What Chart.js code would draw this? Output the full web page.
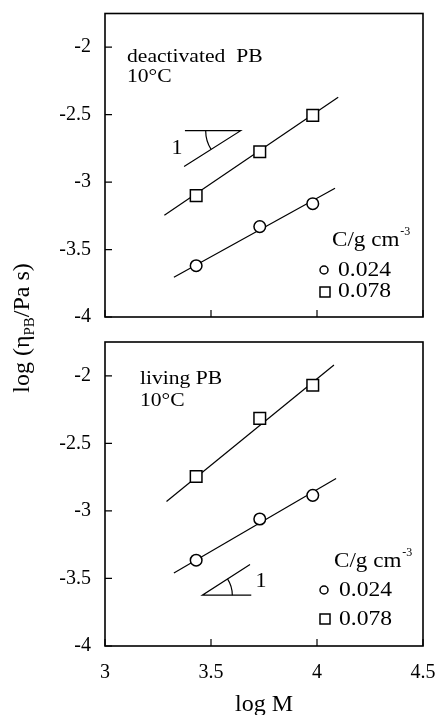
<!DOCTYPE html>
<html>
<head>
<meta charset="utf-8">
<script src="https://cdn.jsdelivr.net/npm/chart.js@4.4.1/dist/chart.umd.min.js"></script>
<style>
  html, body { margin: 0; padding: 0; background: #fff; }
  #wrap { position: relative; width: 438px; height: 715px; }
  #wrap canvas { position: absolute; left: 0; }
</style>
</head>
<body>
<div id="wrap">
  <canvas id="top" width="438" height="715" style="top:0;width:438px;height:715px"></canvas>
  <canvas id="bottom" width="438" height="385" style="top:330px;width:438px;height:385px"></canvas>
</div>
<script>
// values
const logM = [3.43, 3.73, 3.98];
const deact024 = [-3.62, -3.33, -3.16];
const deact078 = [-3.10, -2.775, -2.505];
const living024 = [-3.365, -3.06, -2.885];
const living078 = [-2.745, -2.315, -2.07];

// fitted lines, end points
const deactFitX024 = [3.325, 4.085], deactFitY024 = [-3.705, -3.045];
const deactFitX078 = [3.28, 4.10],   deactFitY078 = [-3.245, -2.37];
const livingFitX024 = [3.325, 4.09], livingFitY024 = [-3.46, -2.76];
const livingFitX078 = [3.29, 4.08],  livingFitY078 = [-2.93, -1.92];

// slope-1 guides
const deactSlopeX = [3.373, 3.64, 3.377],  deactSlopeY = [-2.884, -2.619, -2.619];
const livingSlopeX = [3.69, 3.459, 3.684], livingSlopeY = [-3.624, -3.624, -3.396];

const xTicks = [3, 3.5, 4, 4.5];
const yTicks = [-4, -3.5, -3, -2.5, -2];

const serif = '"Liberation Serif", "Times New Roman", serif';

function pts(xs, ys) {
    return xs.map((x, i) => ({ x: x, y: ys[i] }));
}

function txt(ctx, s, x, y, size, sx, align) {
    ctx.save();
    ctx.font = size + 'px ' + serif;
    ctx.translate(x, y);
    ctx.scale(sx, 1);
    ctx.textAlign = align || 'left';
    ctx.textBaseline = 'alphabetic';
    ctx.fillStyle = '#000';
    ctx.fillText(s, 0, 0);
    const w = ctx.measureText(s).width * sx;
    ctx.restore();
    return w;
}

const deco = {
    id: 'deco',
    afterDraw(chart, args, o) {
        const { ctx, chartArea: a, scales: { x, y } } = chart;
        ctx.save();
        ctx.strokeStyle = '#000';
        ctx.fillStyle = '#000';

        // frame + inward ticks
        ctx.lineWidth = 1.6;
        ctx.strokeRect(a.left, a.top, a.right - a.left, a.bottom - a.top);
        ctx.lineWidth = 1.2;
        ctx.beginPath();
        yTicks.forEach(v => {
            const p = y.getPixelForValue(v);
            ctx.moveTo(a.left, p); ctx.lineTo(a.left + 7, p);
        });
        xTicks.forEach(v => {
            const p = x.getPixelForValue(v);
            ctx.moveTo(p, a.bottom); ctx.lineTo(p, a.bottom - 7);
        });
        ctx.stroke();

        // panel title
        txt(ctx, o.title[0], o.titleX, o.titleY[0], 18, 1.2);
        txt(ctx, o.title[1], o.titleX, o.titleY[1], 18, 1.2);

        // angle arc of slope guide
        const vx = x.getPixelForValue(o.arc.vertex[0]), vy = y.getPixelForValue(o.arc.vertex[1]);
        const ex = x.getPixelForValue(o.arc.toward[0]), ey = y.getPixelForValue(o.arc.toward[1]);
        const ang = Math.atan2(ey - vy, ex - vx);
        ctx.lineWidth = 1.2;
        ctx.beginPath();
        if (o.arc.left) ctx.arc(vx, vy, o.arc.r, ang, Math.PI);
        else ctx.arc(vx, vy, o.arc.r, ang, 0);
        ctx.stroke();
        txt(ctx, '1', o.one[0], o.one[1], 20, 1.1, 'center');

        // legend
        const L = o.legend;
        const w = txt(ctx, 'C/g cm', L.x, L.y, 21, 1.1);
        txt(ctx, '-3', L.x + w + 1, L.y - 11, 12, 1);
        ctx.lineWidth = 1.5;
        ctx.fillStyle = '#fff';
        ctx.beginPath();
        ctx.arc(L.sym[0][0], L.sym[0][1], 4, 0, Math.PI * 2);
        ctx.fill(); ctx.stroke();
        ctx.beginPath();
        ctx.rect(L.sym[1][0] - 5, L.sym[1][1] - 5, 10, 10);
        ctx.fill(); ctx.stroke();
        txt(ctx, '0.024', L.tx, L.ty[0], 20, 1.18);
        txt(ctx, '0.078', L.tx, L.ty[1], 20, 1.18);

        // shared y title (drawn once, on the tall top canvas)
        if (o.yTitle) {
            ctx.save();
            ctx.translate(29, 328);
            ctx.rotate(-Math.PI / 2);
            ctx.fillStyle = '#000';
            ctx.textBaseline = 'alphabetic';
            const parts = [['log (\u03b7', 24, 0], ['PB', 15, 5], ['/Pa s)', 24, 0]];
            let tw = 0;
            parts.forEach(p => { ctx.font = p[1] + 'px ' + serif; tw += ctx.measureText(p[0]).width; });
            let cx = -tw / 2;
            parts.forEach(p => {
                ctx.font = p[1] + 'px ' + serif;
                ctx.fillText(p[0], cx, p[2]);
                cx += ctx.measureText(p[0]).width;
            });
            ctx.restore();
        }
        ctx.restore();
    }
};

function datasets(c024, c078, fx024, fy024, fx078, fy078, sx, sy) {
    const line = { showLine: true, pointRadius: 0, borderColor: '#000', borderWidth: 1.2, fill: false };
    return [
        { data: pts(logM, c024), pointStyle: 'circle', pointRadius: 5.8, pointBorderWidth: 1.5,
          pointBackgroundColor: '#fff', pointBorderColor: '#000', showLine: false },
        { data: pts(logM, c078), pointStyle: 'rect', pointRadius: 8.2, pointBorderWidth: 1.5,
          pointBackgroundColor: '#fff', pointBorderColor: '#000', showLine: false },
        Object.assign({ data: pts(fx024, fy024) }, line),
        Object.assign({ data: pts(fx078, fy078) }, line),
        Object.assign({ data: pts(sx, sy) }, line)
    ];
}

function yScale() {
    return {
        type: 'linear', min: -4, max: -1.75,
        afterBuildTicks: s => { s.ticks = yTicks.map(v => ({ value: v })); },
        afterFit: s => { s.width = 105; s.paddingTop = 0; s.paddingBottom = 0; },
        grid: { display: false, drawTicks: false },
        border: { display: false },
        ticks: { padding: 14, color: '#000', font: { family: serif, size: 20 }, callback: v => String(v) }
    };
}

new Chart(document.getElementById('top'), {
    type: 'scatter',
    data: { datasets: datasets(deact024, deact078, deactFitX024, deactFitY024,
                               deactFitX078, deactFitY078, deactSlopeX, deactSlopeY) },
    options: {
        responsive: false,
        animation: false,
        layout: { padding: { top: 13.5, right: 15, bottom: 398, left: 0 } },
        scales: {
            x: { type: 'linear', min: 3, max: 4.5, display: false },
            y: yScale()
        },
        plugins: {
            legend: { display: false },
            tooltip: { enabled: false },
            deco: {
                title: ['deactivated  PB', '10\u00b0C'], titleX: 127, titleY: [62, 82],
                arc: { vertex: [3.64, -2.619], toward: [3.373, -2.884], r: 35, left: true },
                one: [177, 154],
                legend: { x: 332, y: 246, sym: [[324, 270], [325, 292]], tx: 338, ty: [276, 297] },
                yTitle: true
            }
        }
    },
    plugins: [deco]
});

new Chart(document.getElementById('bottom'), {
    type: 'scatter',
    data: { datasets: datasets(living024, living078, livingFitX024, livingFitY024,
                               livingFitX078, livingFitY078, livingSlopeX, livingSlopeY) },
    options: {
        responsive: false,
        animation: false,
        layout: { padding: { top: 12, right: 15, bottom: 0, left: 0 } },
        scales: {
            x: {
                type: 'linear', min: 3, max: 4.5,
                afterBuildTicks: s => { s.ticks = xTicks.map(v => ({ value: v })); },
                afterFit: s => { s.height = 69; s.paddingLeft = 0; s.paddingRight = 0; },
                grid: { display: false, drawTicks: false },
                border: { display: false },
                ticks: { padding: 15, maxRotation: 0, color: '#000', font: { family: serif, size: 20 }, callback: v => String(v) },
                title: { display: true, text: 'log M', color: '#000', font: { family: serif, size: 24, lineHeight: 1 }, padding: { top: 0, bottom: -2 } }
            },
            y: yScale()
        },
        plugins: {
            legend: { display: false },
            tooltip: { enabled: false },
            deco: {
                title: ['living PB', '10\u00b0C'], titleX: 140, titleY: [54, 76],
                arc: { vertex: [3.459, -3.624], toward: [3.684, -3.396], r: 30, left: false },
                one: [261, 257],
                legend: { x: 334, y: 237, sym: [[324, 260], [325, 289]], tx: 339, ty: [266, 294.5] },
                yTitle: false
            }
        }
    },
    plugins: [deco]
});
</script>
</body>
</html>
